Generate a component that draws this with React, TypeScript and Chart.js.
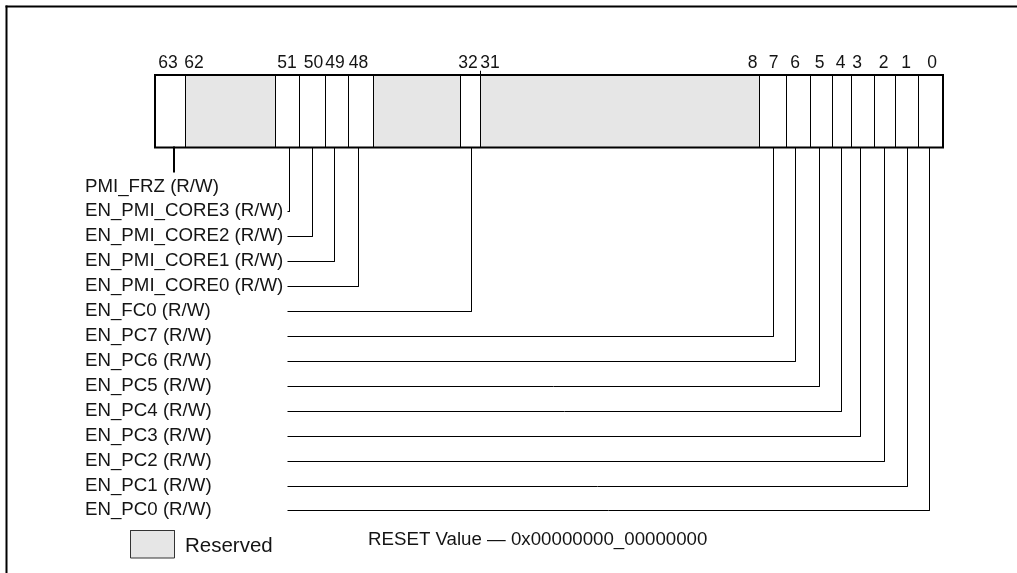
import React, { useEffect, useRef } from "react";
import { Chart, registerables } from "chart.js";

Chart.register(...registerables);

// ---------------- data ----------------
const fieldBits = ["63", "62:52", "51", "50", "49", "48", "47:33", "32", "31:8", "7", "6", "5", "4", "3", "2", "1", "0"];
const fieldNames = ["PMI_FRZ", "", "EN_PMI_CORE3", "EN_PMI_CORE2", "EN_PMI_CORE1", "EN_PMI_CORE0", "", "EN_FC0", "", "EN_PC7", "EN_PC6", "EN_PC5", "EN_PC4", "EN_PC3", "EN_PC2", "EN_PC1", "EN_PC0"];
const fieldAccess = ["R/W", "", "R/W", "R/W", "R/W", "R/W", "", "R/W", "", "R/W", "R/W", "R/W", "R/W", "R/W", "R/W", "R/W", "R/W"];
const fieldReserved = [false, true, false, false, false, false, true, false, true, false, false, false, false, false, false, false, false];
const bitTickLabels = ["63", "62", "51", "50", "49", "48", "32", "31", "8", "7", "6", "5", "4", "3", "2", "1", "0"];
const legendLabels = ["Reserved"];
const resetCaption = "RESET Value";
const resetValue = "0x00000000_00000000";

// ---------------- layout (diagram units, 1 unit = 1 px) ----------------
const W = 1017;
const H = 573;
const FIELD_EDGES = [155, 185, 275, 299, 325, 348, 373, 460, 480, 759, 786, 810, 832, 851, 874, 895, 918, 943];
// x of each bit's leader line
const BIT_X: Record<string, number> = {
  "63": 174, "51": 289.5, "50": 312.5, "49": 334.5, "48": 358.5,
  "32": 471.5, "7": 773.5, "6": 795.5, "5": 819.5,
  "4": 841.5, "3": 860.5, "2": 884.5, "1": 907.5, "0": 929.5,
};
// x (centre) of each bit-number label above the register
const TICK_X: Record<string, number> = {
  "63": 168, "62": 194, "51": 287, "50": 313.5, "49": 335, "48": 358.5,
  "32": 468, "31": 490, "8": 752.5, "7": 773.5, "6": 795, "5": 819.5,
  "4": 840.5, "3": 857, "2": 883.5, "1": 906, "0": 932,
};
const BOX_TOP = 75;
const BOX_BOTTOM = 147.5;
const TICK_BASELINE = 67.5;
const ROW0 = 187;
const ROW_STEP = 24.92;
const LABEL_X = 85;
const LEADER_START = 288;
const STUB_END = 171.5;
const LEGEND_BOX = { x0: 130, y0: 530, x1: 174.5, y1: 558 };
const LEGEND_TEXT = { x: 185, y: 546 };
const RESET_TEXT = { x: 368, y: 539.5 };
const FRAME = { top: 6.5, left: 6.5 };
const GRAY = "#e6e6e6";
const INK = "#000000";
const TEXT = "#141414";
const FONT = "Arial, 'Liberation Sans', Helvetica, sans-serif";

type P = { x: number; y: number };

function rowY(i: number) {
  return Math.floor(ROW0 + i * ROW_STEP) + 0.5;
}

function namedRows() {
  const rows: { idx: number; label: string }[] = [];
  fieldNames.forEach((n, i) => {
    if (n) rows.push({ idx: i, label: `${n} (${fieldAccess[i]})` });
  });
  return rows;
}

function buildDatasets() {
  const ds: any[] = [];
  const line = (pts: P[], width = 1, color = INK) =>
    ds.push({
      data: pts,
      showLine: true,
      borderColor: color,
      borderWidth: width,
      pointRadius: 0,
      pointHoverRadius: 0,
      fill: false,
      tension: 0,
      order: 1,
      borderJoinStyle: "miter",
      borderCapStyle: "square",
    });
  const rect = (x0: number, y0: number, x1: number, y1: number, color: string) =>
    ds.push({
      data: [
        { x: x0, y: y0 },
        { x: x1, y: y0 },
        { x: x1, y: y1 },
        { x: x0, y: y1 },
        { x: x0, y: y0 },
      ],
      showLine: true,
      borderWidth: 0,
      borderColor: "rgba(0,0,0,0)",
      backgroundColor: color,
      fill: "shape",
      pointRadius: 0,
      pointHoverRadius: 0,
      tension: 0,
      order: 10,
    });

  // reserved fills
  fieldReserved.forEach((r, i) => {
    if (r) rect(FIELD_EDGES[i], BOX_TOP, FIELD_EDGES[i + 1], BOX_BOTTOM, GRAY);
  });

  // field dividers
  for (let i = 1; i < FIELD_EDGES.length - 1; i++) {
    const e = FIELD_EDGES[i] + 0.5;
    const top = fieldBits[i - 1] === "32" ? BOX_TOP - 4 : BOX_TOP;
    line([{ x: e, y: top }, { x: e, y: BOX_BOTTOM }], 1);
  }

  // register outline
  const L = FIELD_EDGES[0];
  const R = FIELD_EDGES[FIELD_EDGES.length - 1];
  line(
    [
      { x: L, y: BOX_TOP },
      { x: R, y: BOX_TOP },
      { x: R, y: BOX_BOTTOM },
      { x: L, y: BOX_BOTTOM },
      { x: L, y: BOX_TOP },
    ],
    2
  );

  // leaders
  namedRows().forEach((row, r) => {
    const bx = BIT_X[fieldBits[row.idx]];
    if (r === 0) {
      line([{ x: bx, y: BOX_BOTTOM }, { x: bx, y: STUB_END }], 2);
    } else {
      const y = rowY(r);
      line([{ x: bx, y: BOX_BOTTOM }, { x: bx, y }, { x: LEADER_START, y }], 1);
    }
  });

  // legend swatch
  rect(LEGEND_BOX.x0, LEGEND_BOX.y0, LEGEND_BOX.x1, LEGEND_BOX.y1, GRAY);
  line(
    [
      { x: LEGEND_BOX.x0 + 0.5, y: LEGEND_BOX.y0 + 0.5 },
      { x: LEGEND_BOX.x1, y: LEGEND_BOX.y0 + 0.5 },
      { x: LEGEND_BOX.x1, y: LEGEND_BOX.y1 },
      { x: LEGEND_BOX.x0 + 0.5, y: LEGEND_BOX.y1 },
      { x: LEGEND_BOX.x0 + 0.5, y: LEGEND_BOX.y0 + 0.5 },
    ],
    1,
    "#333"
  );

  // figure frame (top and left edges)
  line([{ x: FRAME.left, y: FRAME.top }, { x: W + 2, y: FRAME.top }], 2);
  line([{ x: FRAME.left, y: FRAME.top }, { x: FRAME.left, y: H + 2 }], 2);

  return ds;
}

const textPlugin = {
  id: "registerText",
  afterDatasetsDraw(chart: any) {
    const { ctx, scales } = chart;
    const xs = scales.x;
    const ys = scales.y;
    ctx.save();
    ctx.fillStyle = TEXT;

    // bit numbers
    ctx.font = `17.5px ${FONT}`;
    ctx.textAlign = "center";
    ctx.textBaseline = "alphabetic";
    bitTickLabels.forEach((b) => {
      ctx.fillText(b, xs.getPixelForValue(TICK_X[b]), ys.getPixelForValue(TICK_BASELINE));
    });

    // field labels
    ctx.font = `18.7px ${FONT}`;
    ctx.textAlign = "left";
    ctx.textBaseline = "middle";
    namedRows().forEach((row, r) => {
      ctx.fillText(row.label, xs.getPixelForValue(LABEL_X), ys.getPixelForValue(rowY(r) - 1));
    });

    // reset value
    ctx.fillText(`${resetCaption} \u2014 ${resetValue}`, xs.getPixelForValue(RESET_TEXT.x), ys.getPixelForValue(RESET_TEXT.y));

    // legend
    ctx.font = `20.5px ${FONT}`;
    ctx.fillText(legendLabels[0], xs.getPixelForValue(LEGEND_TEXT.x), ys.getPixelForValue(LEGEND_TEXT.y));
    ctx.restore();
  },
};

export default function App() {
  const ref = useRef<HTMLCanvasElement>(null);
  useEffect(() => {
    const canvas = ref.current;
    if (!canvas) return;
    const chart = new Chart(canvas, {
      type: "scatter",
      data: { datasets: buildDatasets() },
      options: {
        animation: false,
        responsive: false,
        maintainAspectRatio: false,
        events: [],
        layout: { padding: 0 },
        plugins: { legend: { display: false }, tooltip: { enabled: false } },
        scales: {
          x: { type: "linear", min: 0, max: W, display: false },
          y: { type: "linear", min: 0, max: H, reverse: true, display: false },
        },
      } as any,
      plugins: [textPlugin],
    });
    return () => chart.destroy();
  }, []);
  return (
    <div style={{ position: "fixed", left: 0, top: 0, width: W, height: H, background: "#fff" }}>
      <canvas ref={ref} width={W} height={H} style={{ display: "block", width: W, height: H }} />
    </div>
  );
}
